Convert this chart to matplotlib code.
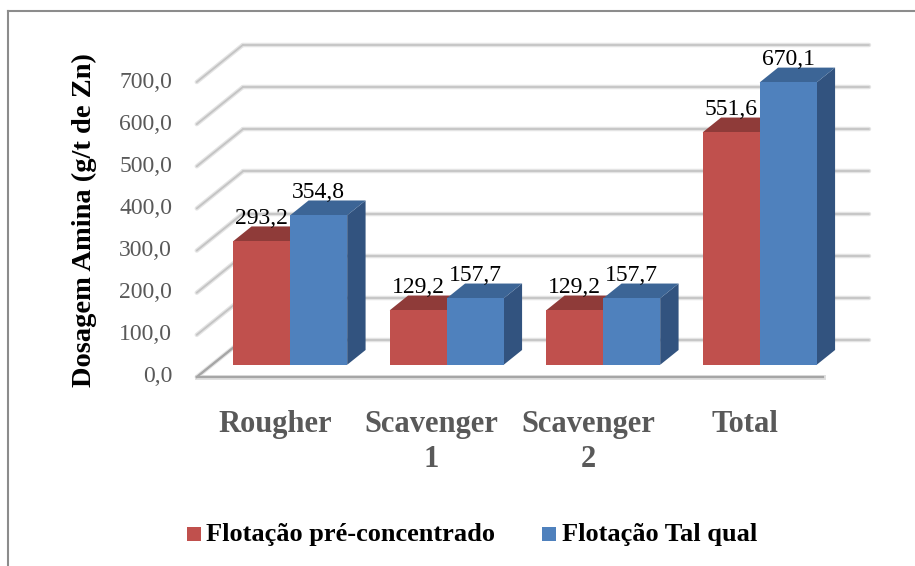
import matplotlib
matplotlib.use("Agg")
import matplotlib.pyplot as plt
from matplotlib.patches import Polygon, Rectangle
from matplotlib.lines import Line2D
import matplotlib.transforms as mtransforms

# ---------------- data ----------------
categories = ["Rougher", "Scavenger\n1", "Scavenger\n2", "Total"]
series_names = ["Flotação pré-concentrado", "Flotação Tal qual"]
pre_concentrado = [293.2, 129.2, 129.2, 551.6]
tal_qual = [354.8, 157.7, 157.7, 670.1]
y_ticks = [0, 100, 200, 300, 400, 500, 600, 700]
y_label = "Dosagem Amina (g/t de Zn)"

# ---------------- style / layout ----------------
W, H = 915, 566
SERIF = "Liberation Serif"
front_cols = ["#C0504D", "#4F81BD"]
top_cols = ["#8F3B39", "#3C6596"]
side_cols = ["#8A3836", "#32537F"]

PXC = 156.5      # pixels per category
X0 = 196.75      # pixel of category -0.5 (front left)
PXV = 0.4214     # pixels per value unit
Y0 = 377.0       # pixel of value 0 (front)

fig = plt.figure(figsize=(W / 100, H / 100), dpi=100)
ax = fig.add_axes([0, 0, 1, 1])
ax.set_xlim(-0.5 - X0 / PXC, -0.5 + (W - X0) / PXC)
ax.set_ylim(-(H - Y0) / PXV, Y0 / PXV)
ax.axis("off")

# depth of floor (pixels -> data)
DX = 46 / PXC
DY = 37 / PXV
F0, F1 = 0.33, 0.73     # bar depth range (fraction of floor depth)
BW = 57 / PXC           # width of one bar
n = len(categories)
xl, xr = -0.5, n - 0.5

# gridlines: back wall + left wall
for v in y_ticks:
    for lw, c in ((3.2, "#e4e4e4"), (1.3, "#c4c4c4")):
        ax.plot([xl + DX, xr + DX], [v + DY, v + DY], color=c, lw=lw,
                solid_capstyle="round", zorder=1)
        ax.plot([xl, xl + DX], [v, v + DY], color=c, lw=lw,
                solid_capstyle="round", zorder=1)
# floor front edge
ax.plot([xl, xr], [0, 0], color="#e0e0e0", lw=3.6, zorder=1)
ax.plot([xl, xr], [0, 0], color="#a6a6a6", lw=1.6, zorder=1)
ax.plot([xl, xl + DX], [0, DY], color="#a6a6a6", lw=1.6, zorder=1)

# tick labels
for v in y_ticks:
    ax.text(-0.5 - (X0 - 172) / PXC, v, f"{v:.1f}".replace(".", ","),
            ha="right", va="center", fontsize=17, family=SERIF,
            color="#595959", zorder=5)

# bars (pseudo 3D)
b0 = F0 * DY
ddx = (F1 - F0) * DX
ddy = (F1 - F0) * DY
for i in range(n):
    for s, vals in enumerate([pre_concentrado, tal_qual]):
        v = vals[i]
        left = i + F0 * DX - BW + s * BW
        right = left + BW
        z = 3 + i * 0.1 + s * 0.01
        ax.bar(left, v, width=BW, bottom=b0, align="edge",
               color=front_cols[s], edgecolor="none", zorder=z + 0.003)
        top = Polygon([(left, v + b0), (right, v + b0),
                       (right + ddx, v + b0 + ddy), (left + ddx, v + b0 + ddy)],
                      closed=True, facecolor=top_cols[s], edgecolor="none",
                      zorder=z + 0.002)
        side = Polygon([(right, b0), (right, v + b0),
                        (right + ddx, v + b0 + ddy), (right + ddx, b0 + ddy)],
                       closed=True, facecolor=side_cols[s], edgecolor="none",
                       zorder=z + 0.001)
        ax.add_patch(top)
        ax.add_patch(side)
        ax.text((left + right) / 2, v + b0 + ddy + 2.5 / PXV,
                f"{v:.1f}".replace(".", ","), ha="center", va="baseline",
                fontsize=17, family=SERIF, color="black", zorder=10)

# category labels
trans = mtransforms.blended_transform_factory(ax.transData, fig.transFigure)
for i, c in enumerate(categories):
    ax.text(i, 1 - 410 / H, c, transform=trans, ha="center", va="top",
            fontsize=22, fontweight="bold", family=SERIF, color="#595959",
            linespacing=1.26)

# y-axis title
fig.text(84.5 / W, 1 - 220 / H, y_label, rotation=90, ha="center",
         va="center", fontsize=20.5, fontweight="bold", family=SERIF,
         color="black")

# legend
leg_sq_x = [187, 542]
leg_tx_x = [206, 562]
for s in range(2):
    fig.patches.append(Rectangle((leg_sq_x[s] / W, 1 - 541 / H), 14 / W, 14 / H,
                                 transform=fig.transFigure,
                                 facecolor=front_cols[s], edgecolor="none"))
    fig.text(leg_tx_x[s] / W, 1 - 541.5 / H, series_names[s], ha="left",
             va="baseline", fontsize=19, fontweight="bold", family=SERIF,
             color="black")

# chart frame
fig.add_artist(Line2D([8 / W, 8 / W], [0, 1 - 11 / H], transform=fig.transFigure,
                      color="#8c8c8c", lw=1.5))
fig.add_artist(Line2D([8 / W, 1], [1 - 11 / H, 1 - 11 / H],
                      transform=fig.transFigure, color="#8c8c8c", lw=1.5))

fig.savefig("out.png", dpi=100, facecolor="white")
